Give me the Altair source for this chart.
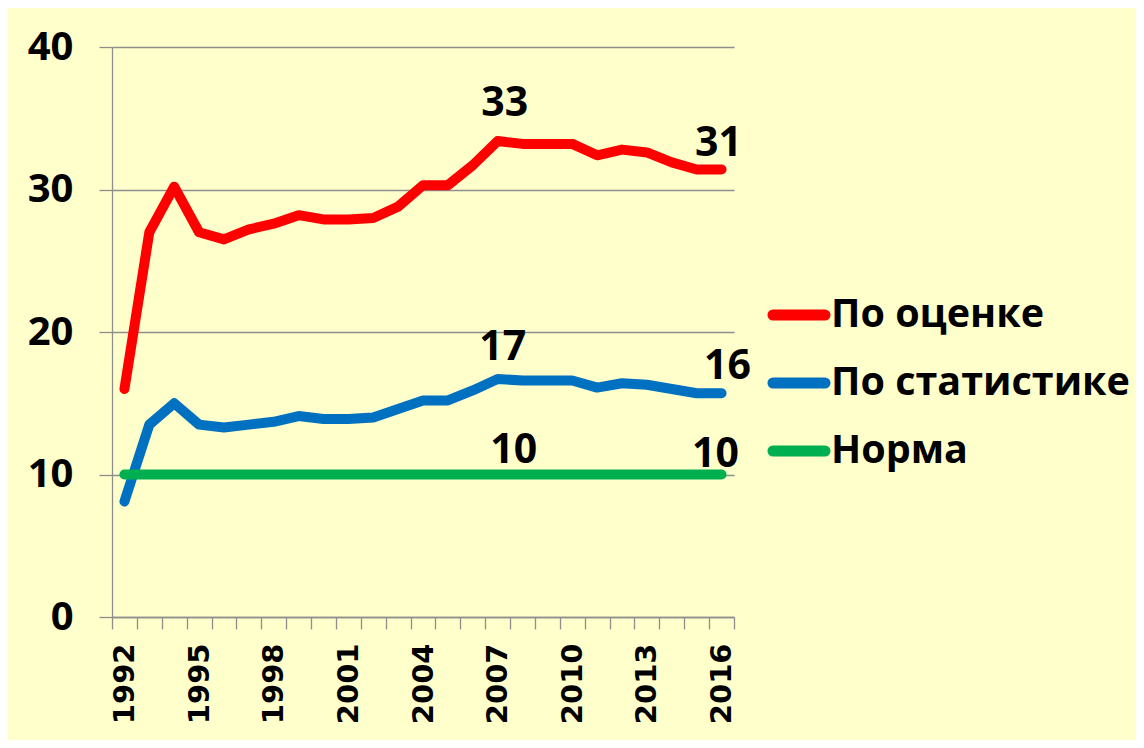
import altair as alt
import pandas as pd

years = list(range(1992, 2017))
po_ocenke = [16.0, 27.0, 30.2, 27.0, 26.5, 27.2, 27.6, 28.2, 27.9, 27.9, 28.0, 28.8, 30.3,
             30.3, 31.7, 33.4, 33.2, 33.2, 33.2, 32.4, 32.8, 32.6, 31.9, 31.4, 31.4]
po_statistike = [8.1, 13.5, 15.0, 13.5, 13.3, 13.5, 13.7, 14.1, 13.9, 13.9, 14.0, 14.6, 15.2,
                 15.2, 15.9, 16.7, 16.6, 16.6, 16.6, 16.1, 16.4, 16.3, 16.0, 15.7, 15.7]
norma = [10, 10, 10, 10, 10, 10, 10, 10, 10, 10, 10, 10, 10,
         10, 10, 10, 10, 10, 10, 10, 10, 10, 10, 10, 10]

series_names = ["По оценке", "По статистике", "Норма"]
series_colors = ["#FF0000", "#0070C0", "#00B050"]

label_series = ["По оценке", "По оценке", "По статистике", "По статистике", "Норма", "Норма"]
label_years = [2007, 2016, 2007, 2016, 2007, 2016]
label_texts = ["33", "31", "17", "16", "10", "10"]

rows = []
for name, vals in zip(series_names, [po_ocenke, po_statistike, norma]):
    for y, v in zip(years, vals):
        rows.append({"year": y, "value": v, "series": name})
df = pd.DataFrame(rows)

lab_rows = []
for s, y, t in zip(label_series, label_years, label_texts):
    v = df[(df.series == s) & (df.year == y)].value.iloc[0]
    lab_rows.append({"year": y, "value": v, "series": s, "text": t})
labdf = pd.DataFrame(lab_rows)

NUM_FONT = "Open Sans"

x_enc = alt.X("year:O", bandPosition=0.5,
              scale=alt.Scale(type="band", paddingInner=0, paddingOuter=0),
              axis=alt.Axis(title=None, tickBand="extent", labelAngle=-90, labelAlign="right",
                            labelBaseline="middle", labelFont="DejaVu Sans", labelFontSize=29,
                            labelFontWeight="bold", labelColor="black", labelPadding=14,
                            tickSize=12, tickColor="#8E8E8E", domainColor="#8E8E8E",
                            tickWidth=1.3, domainWidth=1.3, grid=False,
                            labelExpr="(datum.value - 1992) % 3 == 0 ? datum.label : ''"))
y_enc = alt.Y("value:Q", scale=alt.Scale(domain=[0, 40]),
              axis=alt.Axis(title=None, values=[0, 10, 20, 30, 40], tickSize=13,
                            labelPadding=26, labelFont=NUM_FONT, labelFontSize=40,
                            labelFontWeight="bold", labelColor="black",
                            tickColor="#8E8E8E", domainColor="#8E8E8E", gridColor="#8E8E8E",
                            tickWidth=1.3, domainWidth=1.3, gridWidth=1.3))

capsule = "M-1,-0.02 L1,-0.02 A0.02,0.02 0 0 1 1,0.02 L-1,0.02 A0.02,0.02 0 0 1 -1,-0.02 Z"

lines = alt.Chart(df).mark_line(strokeCap="round", strokeJoin="round", strokeWidth=10).encode(
    x=x_enc,
    y=y_enc,
    color=alt.Color("series:N",
                    scale=alt.Scale(domain=series_names, range=series_colors),
                    legend=alt.Legend(title=None, orient="none", legendX=656, legendY=237,
                                      symbolType=capsule, symbolSize=2704,
                                      symbolStrokeWidth=10, labelFont="Open Sans",
                                      labelFontSize=39.5, labelFontWeight="bold",
                                      labelColor="black", labelLimit=0, labelOffset=1,
                                      rowPadding=16)),
    strokeWidth=alt.StrokeWidth("series:N",
                                scale=alt.Scale(domain=series_names, range=[10, 10, 12]),
                                legend=None),
)

offsets = [(7, -25), (-3, -14), (5, -19), (6, -14), (16, -12), (-6, -8)]
texts = []
for i, (dx, dy) in enumerate(offsets):
    t = alt.Chart(labdf.iloc[[i]]).mark_text(
        font=NUM_FONT, fontSize=41, fontWeight="bold", color="black",
        baseline="alphabetic", align="center", dx=dx, dy=dy
    ).encode(x=alt.X("year:O", bandPosition=0.5), y="value:Q", text="text:N")
    texts.append(t)

chart = alt.layer(lines, *texts).properties(
    width=622, height=570,
    background="#FFFFCC",
    padding={"left": 104, "top": 39, "right": 402, "bottom": 123},
    autosize=alt.AutoSizeParams(type="none"),
).configure_view(stroke=None)

chart.save("out.html", embed_options={"renderer": "svg", "actions": False})
